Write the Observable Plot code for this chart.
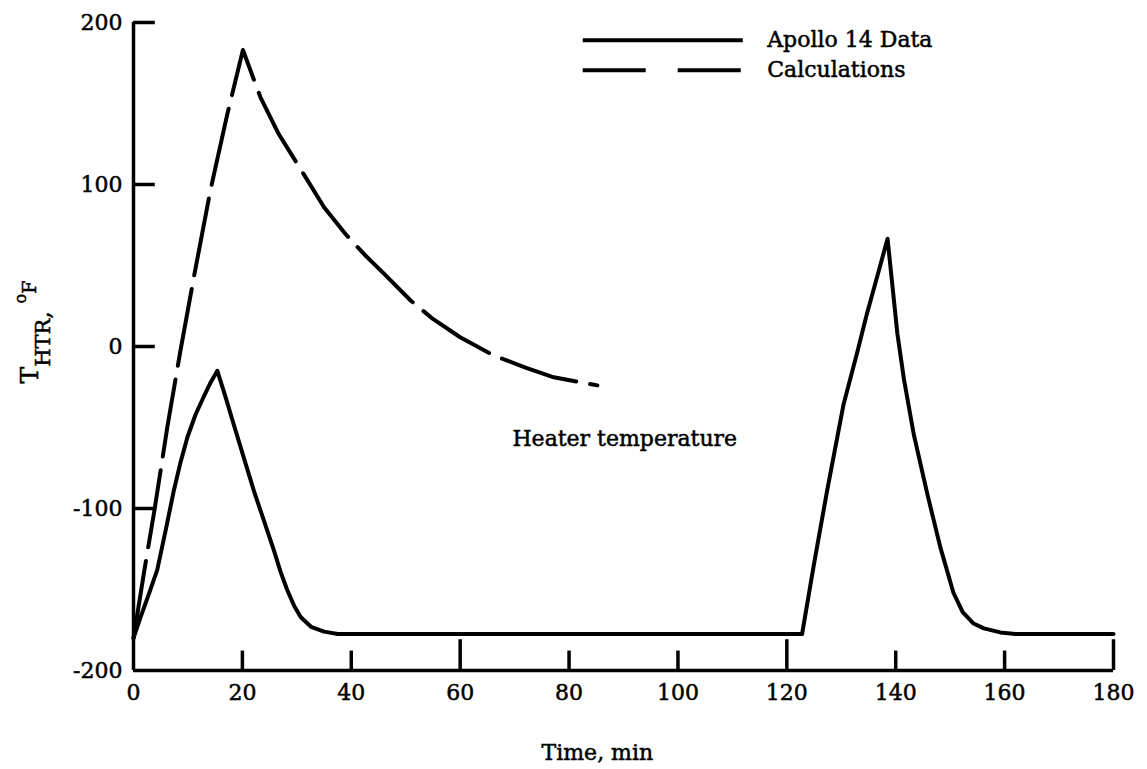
<!DOCTYPE html>
<html><head><meta charset="utf-8">
<script src="https://cdn.jsdelivr.net/npm/d3@7"></script>
<script src="https://cdn.jsdelivr.net/npm/@observablehq/plot@0.6"></script>
<style>
body{margin:0;background:#fff}
#chart svg{font-family:"DejaVu Serif",serif}
#chart svg text{stroke:#000;stroke-width:0.5px}
</style>
</head><body><div id="chart"></div>
<script>
// ---- data ----
const apolloTime = [0, 1.3, 2.8, 4.35, 6, 7.4, 8.6, 9.9, 11.4, 12.9, 14.2, 15.4,
  16.8, 18.4, 20.2, 22.1, 24, 25.8, 27, 28.2, 29.5, 30.7, 32.6, 35, 37.5, 40,
  122.8, 125, 127.4, 130.4, 132.9, 134.7, 136.5, 138.5,
  139.1, 140.3, 141.5, 143.3, 145.8, 148.2, 150.6, 152.3, 154.3, 156.2, 159.2, 162, 180];
const apolloTemp = [-180, -167, -153, -138, -112, -89, -72, -56, -42, -31, -22, -15,
  -30, -48, -68, -89, -108, -126, -139, -150, -160, -167, -173, -176, -177.5, -177.5,
  -177.5, -134, -89, -36, -4, 20, 42, 66.5,
  47, 8, -20, -54, -91, -124, -152, -164, -171, -174, -176.5, -177.5, -177.5];
const calcTime = [0, 2, 3.9, 6.2, 8.6, 11.1, 14.1, 17.2, 20.1,
  23.3, 26.7, 31.4, 35, 38.9, 42.5, 46, 50.9, 55, 60, 66.2, 72, 77.2, 85.2];
const calcTemp = [-180, -138, -100, -50, -3, 43, 96, 143, 183,
  154, 131, 105.6, 86, 69.6, 56.5, 45, 28.4, 17, 5.7, -5.6, -13, -19, -24];
const xTicks = [0, 20, 40, 60, 80, 100, 120, 140, 160, 180];
const yTicks = [-200, -100, 0, 100, 200];
const seriesNames = ["Apollo 14 Data", "Calculations"];
const annotation = "Heater temperature";
const xLabel = "Time, min";

const apollo = apolloTime.map((t, i) => ({t, v: apolloTemp[i]}));
const calc = calcTime.map((t, i) => ({t, v: calcTemp[i]}));

const FONT = "DejaVu Serif";
const FS = 22;
const plot = Plot.plot({
  width: 1147, height: 769,
  marginLeft: 133, marginRight: 34, marginTop: 22, marginBottom: 99,
  x: {domain: [0, 180]},
  y: {domain: [-200, 200]},
  style: {fontFamily: FONT, fontSize: FS + "px", color: "#000", background: "#fff"},
  marks: [
    Plot.axisX(xTicks, {tickSize: 0, tickPadding: 14, fontSize: FS, label: null}),
    Plot.axisY(yTicks, {tickSize: 0, tickPadding: 11, fontSize: FS, label: null,
      tickFormat: d => d < 0 ? "-" + (-d) : String(d)}),
    Plot.ruleX([0], {y1: -200, y2: 200, strokeWidth: 3.5}),
    Plot.ruleY([-200], {x1: 0, x2: 180, strokeWidth: 3.5}),
    Plot.ruleX(xTicks.filter(d => d > 0), {x: d => d, y1: -200, y2: d => d % 60 === 0 ? -181 : -188, strokeWidth: 3.5}),
    Plot.ruleY(yTicks.filter(d => d > -200), {y: d => d, x1: 0, x2: 4, strokeWidth: 3.5}),
    Plot.line(apollo, {x: "t", y: "v", stroke: "#000", strokeWidth: 4, strokeLinejoin: "round", strokeLinecap: "round"}),
    Plot.line(calc, {x: "t", y: "v", stroke: "#000", strokeWidth: 4, strokeDasharray: "78,14", strokeLinejoin: "round"}),
    // legend
    Plot.ruleY([189], {x1: 82.6, x2: 112, strokeWidth: 4}),
    Plot.ruleY([170.5], {x1: 82.6, x2: 112, strokeWidth: 4, strokeDasharray: "63,32"}),
    Plot.text(seriesNames, {x: () => 116.4, y: [189, 170.5], text: d => d, textAnchor: "start", fontSize: FS, fill: "#000"}),
    Plot.text([annotation], {x: 69.6, y: -57, text: d => d, textAnchor: "start", fontSize: FS, fill: "#000"}),
    Plot.text([xLabel], {x: 85.2, y: -200, dy: 82, text: d => d, fontSize: FS, fill: "#000"})
  ]
});
document.getElementById("chart").appendChild(plot);

// y-axis label with subscript / superscript
const svg = d3.select(plot);
const yl = svg.append("text")
  .attr("transform", "translate(38,332) rotate(-90)")
  .attr("text-anchor", "middle")
  .attr("fill", "#000")
  .style("font-family", FONT);
yl.append("tspan").attr("font-size", 25).text("T");
yl.append("tspan").attr("font-size", 21).attr("dy", 12).text("HTR");
yl.append("tspan").attr("font-size", 24).text(", ");
yl.append("tspan").attr("font-size", 16).attr("dy", -24).text("o");
yl.append("tspan").attr("font-size", 19).attr("dy", 10).text("F");
</script>
</body></html>
